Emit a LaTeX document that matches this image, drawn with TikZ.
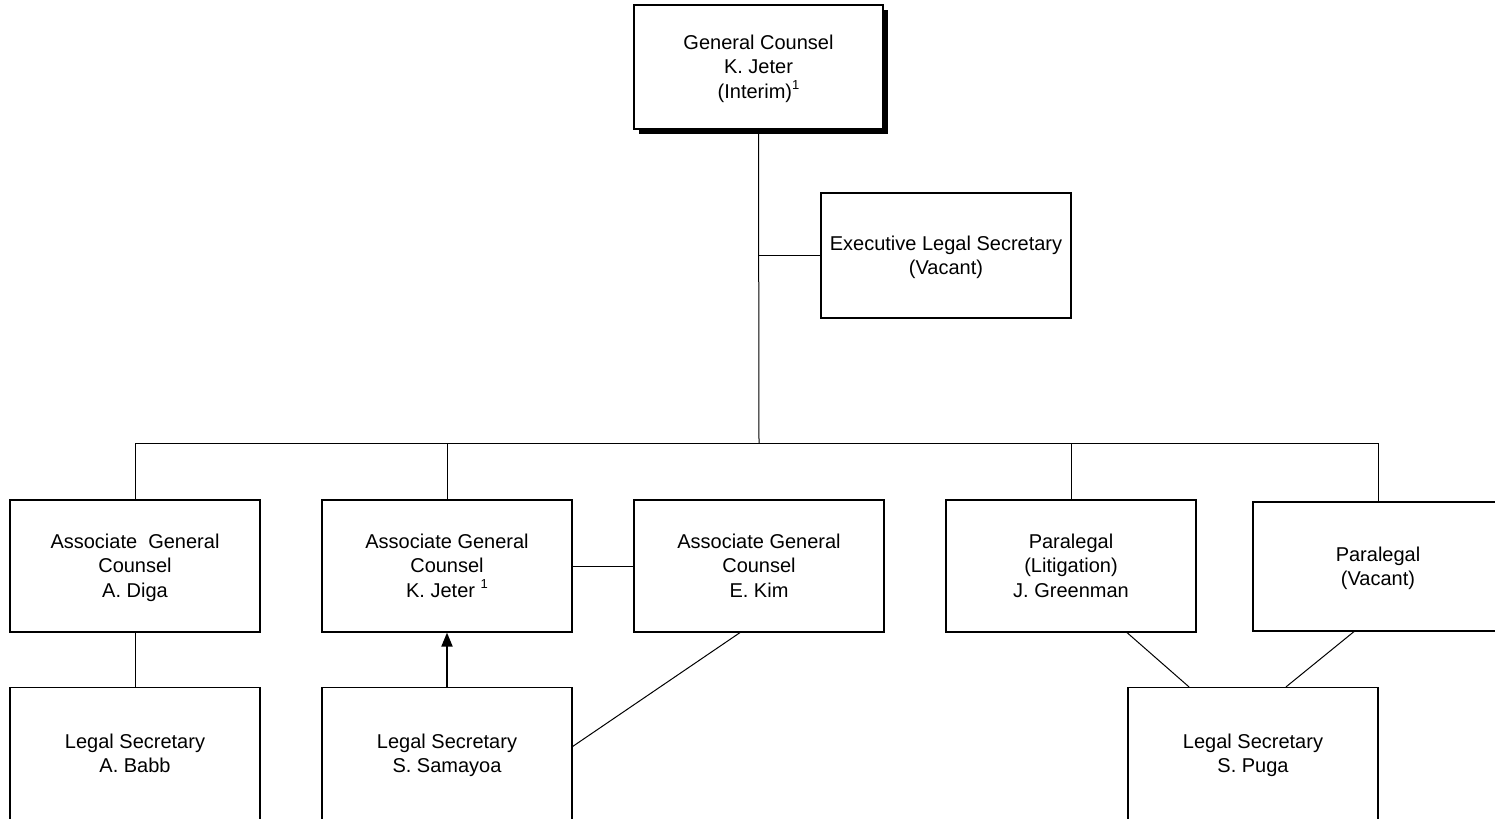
\documentclass[tikz,border=0pt]{standalone}
\usepackage{fontspec}
\setmainfont{Liberation Sans}
\usetikzlibrary{arrows.meta,shadows,calc}
\tikzset{
  unit/.style={draw=black, line width=0.6pt, fill=white, align=center, inner sep=0pt,
    minimum width=125pt, minimum height=66pt, font=\fontsize{10}{12.2}\selectfont},
  conn/.style={draw=black, line width=0.5pt},
  arr/.style={draw=black, line width=1pt, -{Triangle[width=5.5pt,length=7pt]}},
}
\newcommand{\fnone}{\raisebox{0.45em}{\fontsize{6.5}{7}\selectfont 1}}
\newcommand{\tops}{\rule{0pt}{10.6pt}}
\begin{document}
\begin{tikzpicture}[x=0.5pt,y=-0.5pt]
\useasboundingbox (0,0) rectangle (1495,819);
\clip (0,0) rectangle (1495,819);
% top
\node[unit, minimum width=124.5pt, minimum height=62pt,
      drop shadow={shadow xshift=2.5pt, shadow yshift=-2.5pt, fill=black, opacity=1}]
  (gc) at (758.5,67) {\tops General Counsel\\K. Jeter\\(Interim)\fnone\strut};
\node[unit, minimum height=62.5pt] (els) at (946,255.5) {\tops Executive Legal Secretary\\(Vacant)\strut};
% row 2
\node[unit] (diga) at (135,566) {\tops Associate\ \ General\\Counsel\\A. Diga\strut};
\node[unit] (jeter) at (447,566) {\tops Associate General\\Counsel\\K. Jeter \fnone\strut};
\node[unit] (kim) at (759,566) {\tops Associate General\\Counsel\\E. Kim\strut};
\node[unit] (green) at (1071,566) {\tops Paralegal\\(Litigation)\\J. Greenman\strut};
\node[unit, minimum height=64.5pt] (pv) at (1378,566.5) {\tops Paralegal\\(Vacant)\strut};
% row 3
\node[unit] (babb) at (135,753.5) {\tops Legal Secretary\\A. Babb\strut};
\node[unit] (sam) at (447,753.5) {\tops Legal Secretary\\S. Samayoa\strut};
\node[unit] (puga) at (1253,753.5) {\tops Legal Secretary\\S. Puga\strut};
% connectors
\coordinate (bus) at (759,443);
\coordinate (elsj) at (gc.south |- els.west);
\draw[conn] (gc.south) -- (bus);
\draw[conn] (elsj) -- (els.west);
\draw[conn] (bus -| diga.north) -- (bus -| pv.north);
\draw[conn] (bus -| diga.north) -- (diga.north);
\draw[conn] (bus -| jeter.north) -- (jeter.north);
\draw[conn] (bus -| green.north) -- (green.north);
\draw[conn] (bus -| pv.north) -- (pv.north);
\draw[conn] (jeter.east) -- (kim.west);
\draw[conn] (diga.south) -- (babb.north);
\draw[arr] (sam.north) -- (jeter.south);
\draw[conn] ([xshift=-9.5pt]kim.south) -- ([yshift=3.5pt]sam.east);
\draw[conn] ([xshift=28pt]green.south) -- ([xshift=-32pt]puga.north);
\draw[conn] ([xshift=-12pt]pv.south) -- ([xshift=16.5pt]puga.north);
\end{tikzpicture}
\end{document}
